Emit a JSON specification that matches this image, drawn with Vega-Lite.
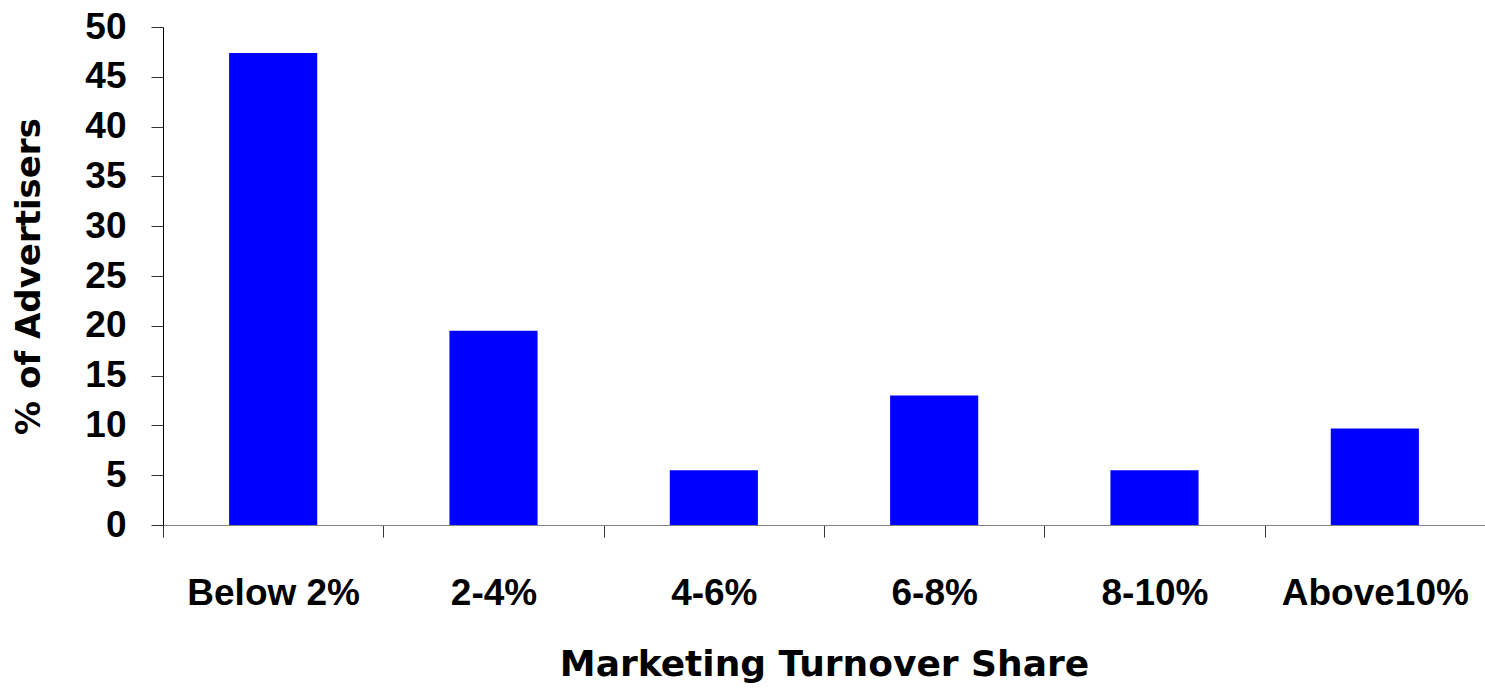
{
  "$schema": "https://vega.github.io/schema/vega-lite/v6.json",
  "autosize": "none",
  "width": 1322,
  "height": 498,
  "padding": {"left": 163, "top": 27, "right": 0, "bottom": 171},
  "background": "white",
  "data": {
    "values": [
      {"share": "Below 2%", "pct": 47.4},
      {"share": "2-4%", "pct": 19.5},
      {"share": "4-6%", "pct": 5.5},
      {"share": "6-8%", "pct": 13.0},
      {"share": "8-10%", "pct": 5.5},
      {"share": "Above10%", "pct": 9.7}
    ]
  },
  "config": {
    "view": {"stroke": null},
    "axis": {
      "labelFont": "Liberation Sans",
      "labelFontWeight": "bold",
      "labelFontSize": 37,
      "labelColor": "black",
      "labelLimit": 0,
      "titleFont": "DejaVu Sans",
      "titleFontWeight": "bold",
      "titleColor": "black",
      "titleLimit": 0,
      "grid": false
    }
  },
  "mark": {"type": "bar", "color": "#0000FF", "width": {"band": 0.4}},
  "encoding": {
    "x": {
      "field": "share",
      "type": "nominal",
      "sort": null,
      "scale": {"paddingInner": 0, "paddingOuter": 0},
      "axis": {
        "title": "Marketing Turnover Share",
        "titleFontSize": 36,
        "labelAngle": 0,
        "tickBand": "extent",
        "tickSize": 12,
        "tickColor": "#333333",
        "domainColor": "#808080",
        "labelPadding": 38,
        "titlePadding": 36
      }
    },
    "y": {
      "field": "pct",
      "type": "quantitative",
      "scale": {"domain": [0, 50]},
      "axis": {
        "title": "% of Advertisers",
        "titleFontSize": 34,
        "values": [0, 5, 10, 15, 20, 25, 30, 35, 40, 45, 50],
        "tickSize": 12,
        "tickColor": "#333333",
        "domainColor": "black",
        "labelPadding": 25,
        "titlePadding": 38
      }
    }
  }
}
